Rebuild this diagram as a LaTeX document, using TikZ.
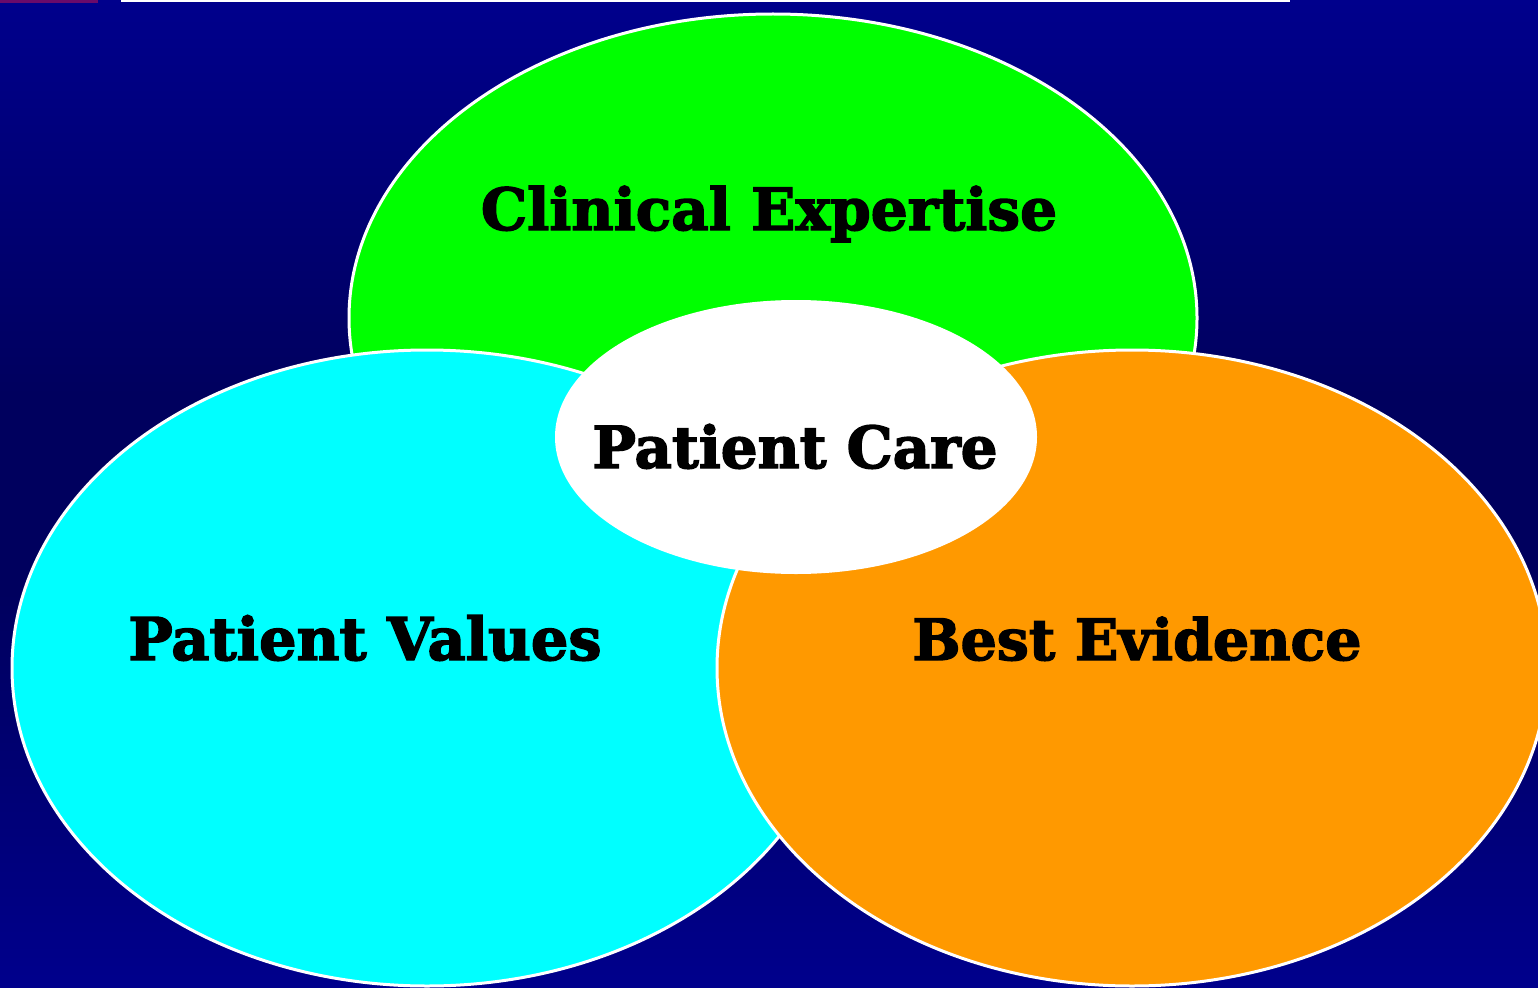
\documentclass[tikz,border=0pt]{standalone}
\usepackage{fontspec}
\setmainfont{DejaVu Serif}
\newfontfamily\heavyfont[FakeBold=2.5]{DejaVu Serif Bold}
\usetikzlibrary{shapes.geometric}
\definecolor{bgedge}{HTML}{00008C}
\definecolor{bgmid}{HTML}{00005E}
\definecolor{lime}{HTML}{00FF00}
\definecolor{aqua}{HTML}{00FFFF}
\definecolor{amber}{HTML}{FF9900}
\definecolor{plum}{HTML}{6A0A6A}
% background fade: blue at top and bottom, darker through the middle
% (the path is mapped onto the 25bp..75bp band of the shading)
\pgfdeclareverticalshading{bgfade}{100bp}{color(0bp)=(bgedge); color(25bp)=(bgedge); color(45bp)=(bgmid); color(55bp)=(bgmid); color(75bp)=(bgedge); color(100bp)=(bgedge)}
\tikzset{
  circlebox/.style={ellipse, draw=white, line width=3pt, inner sep=0pt},
  label/.style={anchor=base, inner sep=0pt, text=black, font=\heavyfont}
}
\newcommand{\fitw}[2]{\resizebox{#1}{!}{#2}}
\begin{document}
\begin{tikzpicture}[x=1pt,y=-1pt]
  \useasboundingbox (0,0) rectangle (1538,987);
  % background
  \shade[shading=bgfade] (0,0) rectangle (1538,987);
  \fill[plum] (0,0) rectangle (98,3);
  \fill[white] (121,0) rectangle (1290,2);
  % the three circles
  \node[circlebox, fill=lime, minimum width=848pt, minimum height=608pt] (clin) at (773,318) {};
  \node[circlebox, fill=aqua, minimum width=830pt, minimum height=636pt] (vals) at (427,668) {};
  \node[circlebox, fill=amber, minimum width=830pt, minimum height=636pt] (evid) at (1132,668) {};
  % centre
  \node[ellipse, fill=white, inner sep=0pt, minimum width=482pt, minimum height=274pt] (care) at (796,437) {};
  % labels
  \node[label] (tclin) at (769,230) {\fitw{576pt}{Clinical Expertise}};
  \node[label] (tcare) at (795,468) {\fitw{405pt}{Patient Care}};
  \node[label] (tvals) at (365,660) {\fitw{473pt}{Patient Values}};
  \node[label] (tevid) at (1137,660) {\fitw{449pt}{Best Evidence}};
\end{tikzpicture}
\end{document}
